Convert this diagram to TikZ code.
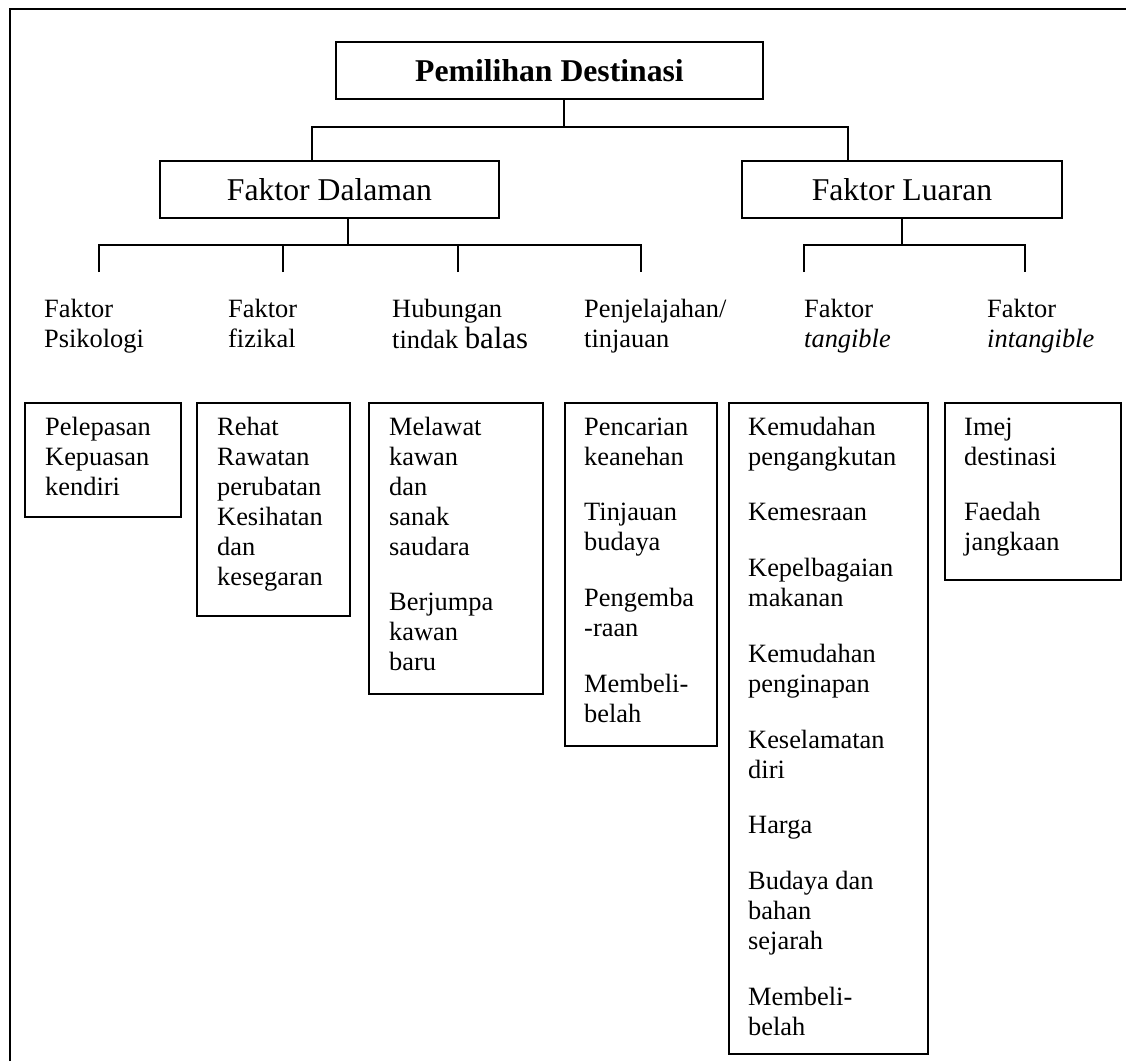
\documentclass[tikz,border=0pt]{standalone}
\usepackage{fontspec}
\setmainfont{Liberation Serif}
\begin{document}
\begin{tikzpicture}[x=1pt,y=-1pt,
  box/.style={draw, line width=1.9pt, inner sep=0pt, anchor=north west},
  head/.style={draw, line width=1.9pt, inner sep=0pt, font=\fontsize{31.7}{36}\selectfont},
  conn/.style={line width=1.6pt},
  frame/.style={line width=2.6pt},
  txt/.style={anchor=north west, inner sep=0pt, align=left, font=\fontsize{26.4}{30}\selectfont}
]
\useasboundingbox (0,0) rectangle (1126,1061);
% outer frame
\coordinate (fa) at (10,1061);
\coordinate (fb) at (10,9);
\coordinate (fc) at (1126,9);
\draw[frame] (fa) -- (fb) -- (fc);

% heading boxes
\node[head, minimum width=427pt, minimum height=57pt] (title) at (549.5,70.5) {\textbf{Pemilihan Destinasi}};
\node[head, minimum width=339pt, minimum height=57pt] (dal) at (329.5,189.5) {Faktor Dalaman};
\node[head, minimum width=320pt, minimum height=57pt] (luar) at (902,189.5) {Faktor Luaran};

% first level connectors
\coordinate (j0) at (564,127);
\coordinate (jl) at (312,127);
\coordinate (jr) at (848,127);
\draw[conn] (title.south -| j0) -- (j0);
\draw[conn] (dal.north -| jl) -- (jl) -- (jr) -- (luar.north -| jr);

% second level connectors
\coordinate (k0) at (348,245);
\coordinate (m0) at (902,245);
\coordinate (t1) at (99,272);
\coordinate (t2) at (283,272);
\coordinate (t3) at (458,272);
\coordinate (t4) at (641,272);
\coordinate (t5) at (804,272);
\coordinate (t6) at (1025,272);
\draw[conn] (dal.south -| k0) -- (k0);
\draw[conn] (t1) -- (t1 |- k0) -- (t4 |- k0) -- (t4);
\draw[conn] (t2) -- (t2 |- k0);
\draw[conn] (t3) -- (t3 |- k0);
\draw[conn] (luar.south -| m0) -- (m0);
\draw[conn] (t5) -- (t5 |- m0) -- (t6 |- m0) -- (t6);

% category labels
\node[txt] (l1) at (44,296) {\strut Faktor\\Psikologi};
\node[txt] (l2) at (228,296) {\strut Faktor\\fizikal};
\node[txt] (l3) at (392,296) {\strut Hubungan\\tindak {\fontsize{30.8}{30}\selectfont balas}};
\node[txt] (l4) at (584,296) {\strut Penjelajahan/\\tinjauan};
\node[txt] (l5) at (804,296) {\strut Faktor\\\textit{tangible}};
\node[txt] (l6) at (987,296) {\strut Faktor\\\textit{intangible}};

% detail boxes
\node[box, minimum width=156pt, minimum height=114pt] (b1) at (24,402) {};
\node[box, minimum width=153pt, minimum height=213pt] (b2) at (196,402) {};
\node[box, minimum width=174pt, minimum height=291pt] (b3) at (368,402) {};
\node[box, minimum width=152pt, minimum height=343pt] (b4) at (564,402) {};
\node[box, minimum width=199pt, minimum height=651pt] (b5) at (728,402) {};
\node[box, minimum width=176pt, minimum height=177pt] (b6) at (944,402) {};

\node[txt] (d1) at (45,414) {\strut Pelepasan\\Kepuasan\\kendiri};
\node[txt] (d2) at (217,414) {\strut Rehat\\Rawatan\\perubatan\\Kesihatan\\dan\\kesegaran};
\node[txt] (d3) at (389,414) {\strut Melawat\\kawan\\dan\\sanak\\saudara\\[25.7pt]Berjumpa\\kawan\\baru};
\node[txt] (d4) at (584,414) {\strut Pencarian\\keanehan\\[25.7pt]Tinjauan\\budaya\\[25.7pt]Pengemba\\-raan\\[25.7pt]Membeli-\\belah};
\node[txt] (d5) at (748,414) {\strut Kemudahan\\pengangkutan\\[25.7pt]Kemesraan\\[25.7pt]Kepelbagaian\\makanan\\[25.7pt]Kemudahan\\penginapan\\[25.7pt]Keselamatan\\diri\\[25.7pt]Harga\\[25.7pt]Budaya dan\\bahan\\sejarah\\[25.7pt]Membeli-\\belah};
\node[txt] (d6) at (964,414) {\strut Imej\\destinasi\\[25.7pt]Faedah\\jangkaan};
\end{tikzpicture}
\end{document}
